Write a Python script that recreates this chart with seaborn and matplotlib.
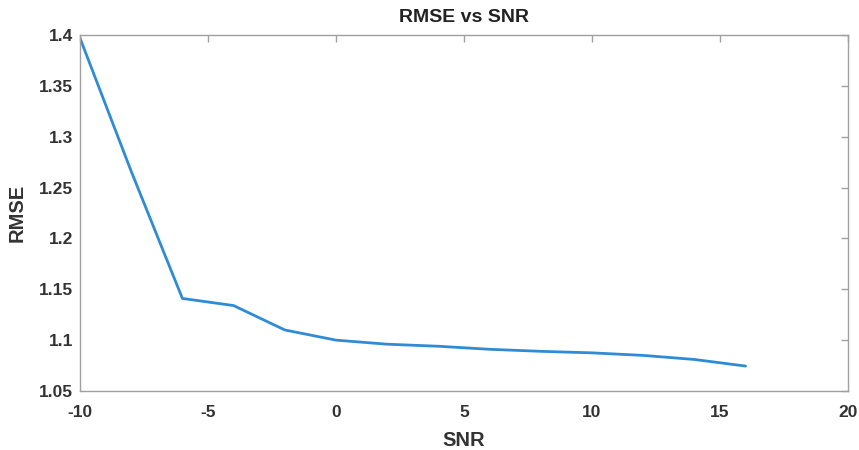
import matplotlib
matplotlib.use("Agg")
import matplotlib.pyplot as plt
import seaborn as sns
import pandas as pd

snr = [-10, -8, -6, -4, -2, 0, 2, 4, 6, 8, 10, 12, 14, 16]
rmse = [1.397, 1.266, 1.141, 1.134, 1.110, 1.100, 1.096, 1.094, 1.091, 1.089, 1.0875, 1.085, 1.081, 1.0745]
xticks = [-10, -5, 0, 5, 10, 15, 20]
yticks = [1.05, 1.1, 1.15, 1.2, 1.25, 1.3, 1.35, 1.4]

sns.set_style("white")
plt.rcParams['font.family'] = ['Liberation Sans', 'DejaVu Sans']
plt.rcParams['font.weight'] = 'bold'

df = pd.DataFrame({"SNR": snr, "RMSE": rmse})

fig = plt.figure(figsize=(8.59, 4.5), dpi=100)
ax = fig.add_axes([80/859, 1-391/450, (848-80)/859, (391-35)/450])
sns.lineplot(data=df, x="SNR", y="RMSE", ax=ax, color="#2f8cd4", linewidth=2)

ax.set_xlim(-10, 20)
ax.set_ylim(1.05, 1.4)
ax.set_xticks(xticks)
ax.set_xticklabels([str(t) for t in xticks])
ax.set_yticks(yticks)
ax.set_yticklabels([f"{t:g}" for t in yticks])
ax.tick_params(direction='in', length=5, width=1, color='#a0a0a0',
               top=True, right=True, labelsize=12.5, labelcolor='#333333')
ax.tick_params(axis='x', pad=10)
ax.tick_params(axis='y', pad=5)
for lab in ax.get_xticklabels() + ax.get_yticklabels():
    lab.set_fontweight('bold')
for s in ax.spines.values():
    s.set_visible(True)
    s.set_color('#a0a0a0')
    s.set_linewidth(1)
ax.set_xlabel("SNR", fontsize=14.5, fontweight='bold', color='#333333', labelpad=8)
ax.set_ylabel("RMSE", fontsize=14.5, fontweight='bold', color='#333333', labelpad=9)
ax.set_title("RMSE vs SNR", fontsize=14, fontweight='bold', color='#222222', pad=9)

fig.savefig("out.png", dpi=100)
